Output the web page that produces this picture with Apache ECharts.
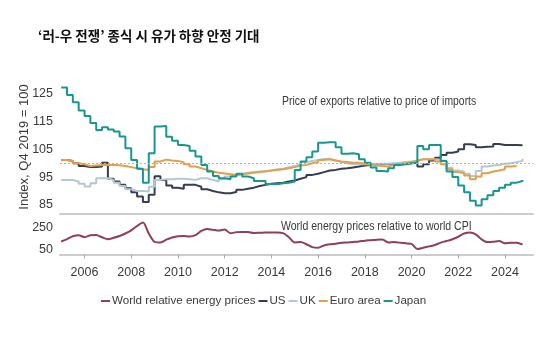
<!DOCTYPE html>
<html><head><meta charset="utf-8">
<script src="https://cdn.jsdelivr.net/npm/echarts@6/dist/echarts.min.js"></script>
<style>html,body{margin:0;padding:0;background:#fff}#c{width:559px;height:361px}</style>
</head><body><div id="c"></div>
<script>
// Quarterly data, 2005Q1 onwards
const startYear = 2005;
const yearTicks = [2006, 2008, 2010, 2012, 2014, 2016, 2018, 2020, 2022, 2024];
const indexTicks = [85, 95, 105, 115, 125];
const energyTicks = [50, 250];

const japan = [127.3,124.6,122,119,117,114.5,112,113,112.2,111.4,109.6,105.4,101.2,98,93,103.6,113.2,113.4,109.5,108.1,106.6,106.2,104.5,102.4,99.4,97,95.4,94.6,94.2,95.2,96.2,95.2,94.6,93.6,93.6,92.5,92.4,92.8,93,93.4,97.6,100.6,102.2,104.2,107.4,107.6,107.6,105.8,103.4,103.6,103.2,101.4,100.2,98.5,97.2,97,98.2,99.4,99.6,100,100.2,106.2,105,106.6,106.6,100.8,97,95,92,89.5,86.5,84.8,87,88.5,90,91.2,92.2,93,93.6,94];
const us = [101.2,100.8,100,99,98.6,98.6,98.8,100.2,94.4,93.4,92.2,91,89.5,88,86,88.6,95.3,94,92,91.2,90.8,92.2,92.2,91.5,90.6,90,89.5,89.2,89.2,89.6,90.4,90.8,91.2,91.8,92.2,92.6,92.8,93,93.4,93.8,94.4,95,95.8,96.2,96.8,97.4,97.6,98,98.2,98.5,98.8,99.2,99.4,99.6,99.7,99.7,99.7,99.7,99.9,100,100.2,98.8,99.6,101,102,103,103.8,104.2,105,106.8,106.6,105.8,105.9,106,106.9,106.6,106.6,106.6,106.5,106.5];
const uk = [94,94,93.4,92.6,91.6,92.8,94.6,94.6,94,93,91.8,90.6,90,90,89.8,91.5,94,94.2,94.2,94.4,94.4,94.2,94,94.6,94.6,94,93.4,94.2,95.2,95.6,96.2,96.6,96.8,97,97.2,97.4,97.8,98,98.6,99,99.6,100.4,100.8,101.2,101.5,101.6,101,100.4,100,99.6,99.6,99.6,99.7,99.8,99.8,99.8,100,100.2,100.4,100.6,100.8,101.4,101.4,101.4,101.2,100.6,98.4,97.4,97,96.2,95.4,97.2,98.8,99.2,99.4,99.8,100,100.4,100.8,101.5];
const euro = [101.2,100.8,100,99.6,99,99.2,99.4,99.4,99.4,99.3,99,98.6,98.2,97.8,97.6,98.6,100.6,101.3,101,100.8,100.4,99.6,98.8,98.2,97.6,97,96.6,96.3,96,95.8,96,96.3,96.6,96.8,97,97.4,97.6,97.8,98.2,98.6,99.2,99.4,100,100.4,101.2,101.4,101,100.6,100.4,100.2,100.2,99.8,99.4,99.2,99,98.8,99.4,99.7,100,100.4,101,101.4,101.4,101.4,100.6,99.6,97.8,96.8,96.4,95.6,94.2,95.2,96.4,97,97.4,97.8,98.8,99,99];
const energy = [120,142,170,178,161,178,182,160,142,155,172,195,225,265,298,195,118,112,138,158,170,172,167,180,220,238,229,222,232,198,208,210,209,200,202,204,204,204,198,160,112,115,95,68,62,84,95,100,108,112,116,120,128,133,138,140,112,116,110,104,98,50,62,75,88,110,125,142,165,195,204,188,140,115,118,125,105,110,108,92];

const pairs = arr => arr.map((v, i) => [startYear + i / 4, v]);
const FONT = "'Liberation Sans', Arial, sans-serif";
const TXT = '#3a3a3a';

const chart = echarts.init(document.getElementById('c'), null, {renderer: 'canvas'});
const lineBase = (name, data, color, extra) => Object.assign({
  name, type: 'line', data: pairs(data), showSymbol: false, symbol: 'none',
  lineStyle: {width: 2, color}, itemStyle: {color}, step: 'end', animation: false,
  xAxisIndex: 0, yAxisIndex: 0
}, extra || {});

chart.setOption({
  animation: false,
  textStyle: {fontFamily: FONT},
  grid: [
    {left: 60, right: 26, top: 80, height: 134},
    {left: 60, right: 26, top: 214, height: 43}
  ],
  xAxis: [
    {type: 'value', gridIndex: 0, min: 2004.95, max: 2025.2,
     axisLine: {show: true, lineStyle: {color: '#cccccc', width: 2}},
     axisTick: {show: false}, axisLabel: {show: false}, splitLine: {show: false}},
    {type: 'value', gridIndex: 1, min: 2004.95, max: 2025.2,
     axisLine: {show: true, lineStyle: {color: '#cccccc', width: 2}},
     axisTick: {show: true, length: 4, lineStyle: {color: '#aaaaaa'}, customValues: yearTicks},
     axisLabel: {show: true, customValues: yearTicks, color: TXT, fontSize: 12.5, fontFamily: FONT, margin: 9, formatter: v => String(v)},
     splitLine: {show: false}}
  ],
  yAxis: [
    {type: 'value', gridIndex: 0, min: 81.7, max: 130,
     axisLine: {show: false}, axisTick: {show: false}, splitLine: {show: false},
     axisLabel: {customValues: indexTicks, color: TXT, fontSize: 12.5, fontFamily: FONT, margin: 7},
     name: 'Index, Q4 2019 = 100', nameLocation: 'middle', nameGap: 29, nameRotate: 90,
     nameMoveOverlap: false,
     nameTextStyle: {color: TXT, fontSize: 13, fontFamily: FONT}},
    {type: 'value', gridIndex: 1, min: -24, max: 377,
     axisLine: {show: false}, axisTick: {show: false}, splitLine: {show: false},
     axisLabel: {customValues: energyTicks, color: TXT, fontSize: 12.5, fontFamily: FONT, margin: 7}}
  ],
  legend: {
    left: 96, top: 290, itemWidth: 9, itemHeight: 2, itemGap: 3, icon: 'rect',
    textStyle: {color: TXT, fontSize: 11.6, fontFamily: FONT, padding: [0, 0, 0, -3]},
    data: ['World relative energy prices', 'US', 'UK', 'Euro area', 'Japan']
  },
  graphic: [
    {type: 'text', left: 38, top: 29, style: {text: "‘러-우 전쟁’ 종식 시 유가 하향 안정 기대", fill: '#111', font: "bold 13.5px 'Noto Sans CJK KR'"}},
    {type: 'text', x: 282, y: 95, scaleX: 0.8, style: {text: 'Price of exports relative to price of imports', fill: TXT, font: "13px " + FONT}},
    {type: 'text', x: 281, y: 220, scaleX: 0.81, style: {text: 'World energy prices relative to world CPI', fill: TXT, font: "13px " + FONT}}
  ],
  series: [
    lineBase('World relative energy prices', energy, '#8e4155', {step: false, smooth: 0.3, xAxisIndex: 1, yAxisIndex: 1}),
    lineBase('US', us, '#363c52'),
    lineBase('UK', uk, '#b4c8d0'),
    lineBase('Euro area', euro, '#e3a04a', {
      markLine: {silent: true, symbol: 'none', label: {show: false},
        lineStyle: {color: '#b0b0b0', type: [2, 2], width: 1}, data: [{yAxis: 100}]}
    }),
    lineBase('Japan', japan, '#17978f')
  ]
});
</script></body></html>
